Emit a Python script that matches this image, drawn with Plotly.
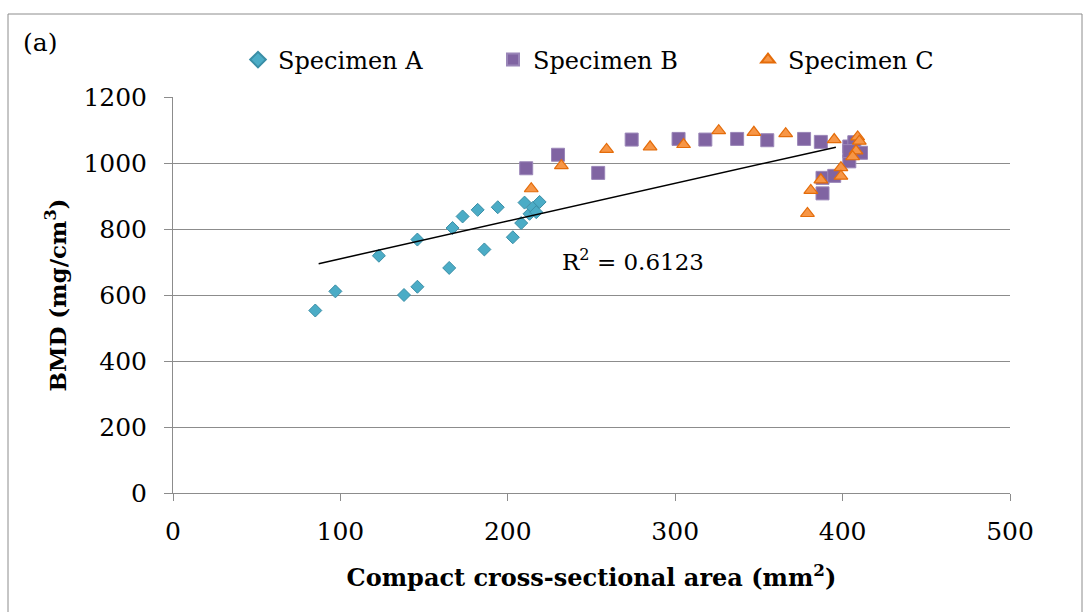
import plotly.graph_objects as go

# Specimen A
a_area = [85, 97, 123, 138, 146, 146, 165, 167, 173, 182, 186, 194, 203, 208, 210, 213, 215, 217, 219]
a_bmd = [553, 611, 719, 600, 768, 625, 682, 803, 838, 858, 738, 866, 775, 818, 880, 846, 864, 851, 882]

# Specimen B
b_area = [211, 230, 254, 274, 302, 318, 337, 355, 377, 387, 388, 388, 395, 404, 404, 407, 411, 404]
b_bmd = [984, 1025, 970, 1071, 1073, 1071, 1073, 1069, 1073, 1064, 955, 908, 961, 1005, 1050, 1063, 1031, 1036]

# Specimen C
c_area = [214, 232, 259, 285, 305, 326, 347, 366, 395, 409, 410, 408, 406, 399, 399, 387, 381, 379]
c_bmd = [922, 992, 1041, 1049, 1056, 1098, 1093, 1089, 1071, 1079, 1066, 1037, 1019, 986, 960, 949, 917, 847]

# Linear trendline end points and its fit statistic
trend_area = [87, 396]
trend_bmd = [695, 1048]
r_squared = "0.6123"

x_ticks = [0, 100, 200, 300, 400, 500]
y_ticks = [0, 200, 400, 600, 800, 1000, 1200]

FONT = "DejaVu Serif"
GRID = "#8c8c8c"

# Canvas and plot-area geometry in pixels
W, H = 1084, 612
ML, MR, MT, MB = 173, 74, 97, 119
pw, ph = W - ML - MR, H - MT - MB


def px_x(v):
    return (v - ML) / pw


def px_y(v):
    return (H - MB - v) / ph


fig = go.Figure()

fig.add_trace(go.Scatter(
    x=a_area, y=a_bmd, mode="markers", name="Specimen A",
    marker=dict(symbol="diamond", size=10, color="#4bacc6",
                line=dict(color="#3a8ea6", width=1)),
))
fig.add_trace(go.Scatter(
    x=b_area, y=b_bmd, mode="markers", name="Specimen B",
    marker=dict(symbol="square", size=13, color="#8064a2",
                line=dict(color="#9a86b8", width=1)),
))
fig.add_trace(go.Scatter(
    x=c_area, y=c_bmd, mode="markers", name="Specimen C",
    marker=dict(symbol="triangle-up", size=12, color="#f79646",
                line=dict(color="#e46c0a", width=1.2)),
))
fig.add_trace(go.Scatter(
    x=trend_area, y=trend_bmd, mode="lines", showlegend=False,
    line=dict(color="black", width=1.5), hoverinfo="skip",
))

fig.add_annotation(
    x=275, y=705, xref="x", yref="y",
    text="R<sup>2</sup> = " + r_squared, showarrow=False,
    font=dict(family=FONT, size=23, color="black"),
)

fig.add_annotation(
    x=px_x(40), y=px_y(42), xref="paper", yref="paper", text="(a)", showarrow=False,
    xanchor="center", yanchor="middle",
    font=dict(family=FONT, size=25, color="black"),
)

# Outer frame around the whole chart
fig.add_shape(
    type="rect", xref="paper", yref="paper",
    x0=px_x(8), x1=px_x(1082), y0=px_y(640), y1=px_y(14),
    line=dict(color="#8c8c8c", width=1), fillcolor="rgba(0,0,0,0)", layer="below",
)

fig.update_layout(
    width=W, height=H,
    margin=dict(l=ML, r=MR, t=MT, b=MB),
    paper_bgcolor="white", plot_bgcolor="white",
    font=dict(family=FONT, size=25, color="black"),
    showlegend=True,
    legend=dict(
        orientation="h", x=px_x(238), y=px_y(60), xanchor="left", yanchor="middle",
        font=dict(family=FONT, size=24, color="black"),
        entrywidth=210, entrywidthmode="pixels", itemsizing="constant",
        bgcolor="rgba(0,0,0,0)",
    ),
    xaxis=dict(
        range=[0, 500], tickvals=x_ticks, ticktext=[str(v) for v in x_ticks],
        showgrid=False, zeroline=False, showline=True, linecolor=GRID, linewidth=1,
        ticks="outside", ticklen=7, tickcolor=GRID, ticklabelstandoff=9,
        tickfont=dict(family=FONT, size=25),
        title=dict(text="<b>Compact cross-sectional area (mm<sup>2</sup>)</b>",
                   font=dict(family=FONT, size=24), standoff=24),
        automargin=False,
    ),
    yaxis=dict(
        range=[0, 1200], tickvals=y_ticks, ticktext=[str(v) for v in y_ticks],
        showgrid=True, gridcolor=GRID, gridwidth=1, zeroline=False,
        showline=True, linecolor=GRID, linewidth=1,
        ticks="outside", ticklen=8, tickcolor=GRID, ticklabelstandoff=12,
        tickfont=dict(family=FONT, size=25),
        title=dict(text="<b>BMD (mg/cm<sup>3</sup>)</b>",
                   font=dict(family=FONT, size=23), standoff=10),
        automargin=False,
    ),
)

fig.write_html("out.html")
